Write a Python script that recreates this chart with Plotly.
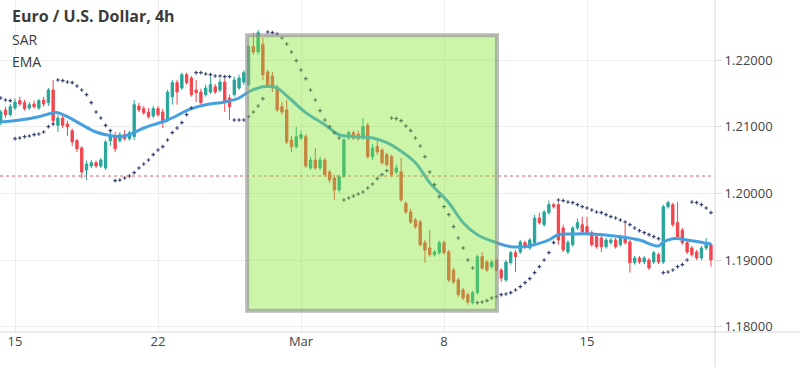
import plotly.graph_objects as go

# ---- data (4h EUR/USD bars, index 0..149) ----
opens = [1.2107,1.2125,1.2118,1.2128,1.2139,1.2136,1.2128,1.2134,1.2128,1.2140,
         1.2136,1.2155,1.2102,1.2113,1.2104,1.2094,1.2079,1.2068,1.2035,1.2041,
         1.2046,1.2041,1.2038,1.2079,1.2086,1.2079,1.2088,1.2082,1.2085,1.2131,
         1.2127,1.2122,1.2116,1.2127,1.2122,1.2110,1.2145,1.2166,1.2158,1.2178,
         1.2173,1.2155,1.2152,1.2148,1.2152,1.2160,1.2155,1.2167,1.2143,1.2148,
         1.2158,1.2167,1.2163,1.2220,1.2212,1.2223,1.2182,1.2176,1.2158,1.2130,
         1.2125,1.2080,1.2070,1.2083,1.2085,1.2038,1.2050,1.2038,1.2050,1.2032,
         1.2023,1.2005,1.2025,1.2083,1.2091,1.2089,1.2083,1.2102,1.2055,1.2070,
         1.2065,1.2058,1.2055,1.2032,1.2032,1.1985,1.1972,1.1960,1.1957,1.1926,
         1.1918,1.1908,1.1911,1.1926,1.1912,1.1885,1.1870,1.1855,1.1848,1.1836,
         1.1851,1.1905,1.1897,1.1890,1.1900,1.1885,1.1870,1.1896,1.1911,1.1912,
         1.1926,1.1918,1.1926,1.1963,1.1953,1.1971,1.1983,1.1983,1.1948,1.1912,
         1.1923,1.1948,1.1953,1.1950,1.1941,1.1935,1.1933,1.1920,1.1926,1.1930,
         1.1923,1.1935,1.1927,1.1896,1.1903,1.1897,1.1900,1.1897,1.1908,1.1897,
         1.1980,1.1983,1.1956,1.1945,1.1926,1.1918,1.1912,1.1903,1.1918,1.1923]
highs = [1.2125,1.2130,1.2134,1.2142,1.2145,1.2140,1.2137,1.2139,1.2142,1.2145,
         1.2158,1.2170,1.2118,1.2116,1.2109,1.2097,1.2082,1.2071,1.2049,1.2050,
         1.2049,1.2053,1.2080,1.2092,1.2092,1.2092,1.2095,1.2094,1.2140,1.2136,
         1.2131,1.2128,1.2131,1.2131,1.2127,1.2155,1.2170,1.2170,1.2181,1.2181,
         1.2176,1.2170,1.2157,1.2163,1.2175,1.2164,1.2172,1.2172,1.2148,1.2175,
         1.2178,1.2185,1.2223,1.2241,1.2245,1.2233,1.2185,1.2182,1.2163,1.2137,
         1.2140,1.2086,1.2100,1.2094,1.2089,1.2055,1.2068,1.2055,1.2053,1.2035,
         1.2028,1.2028,1.2083,1.2094,1.2094,1.2094,1.2113,1.2106,1.2074,1.2080,
         1.2068,1.2061,1.2058,1.2043,1.2053,1.1988,1.1977,1.1963,1.1960,1.1930,
         1.1945,1.1915,1.1929,1.1929,1.1915,1.1888,1.1873,1.1858,1.1851,1.1854,
         1.1908,1.1912,1.1900,1.1900,1.1903,1.1888,1.1900,1.1914,1.1915,1.1930,
         1.1929,1.1933,1.1968,1.1971,1.1975,1.1989,1.1986,1.1986,1.1953,1.1930,
         1.1951,1.1962,1.1965,1.1965,1.1944,1.1938,1.1936,1.1933,1.1933,1.1933,
         1.1938,1.1954,1.1930,1.1906,1.1906,1.1906,1.1903,1.1914,1.1911,1.1983,
         1.1989,1.1986,1.1987,1.1948,1.1929,1.1921,1.1915,1.1921,1.1933,1.1926]
lows = [1.2102,1.2113,1.2115,1.2125,1.2131,1.2124,1.2125,1.2127,1.2125,1.2130,
        1.2131,1.2102,1.2092,1.2098,1.2086,1.2071,1.2062,1.2023,1.2020,1.2038,
        1.2038,1.2038,1.2035,1.2071,1.2062,1.2076,1.2079,1.2079,1.2080,1.2122,
        1.2118,1.2112,1.2113,1.2115,1.2098,1.2107,1.2133,1.2133,1.2155,1.2163,
        1.2145,1.2137,1.2133,1.2145,1.2149,1.2149,1.2152,1.2122,1.2110,1.2145,
        1.2155,1.2163,1.2160,1.2208,1.2208,1.2170,1.2158,1.2152,1.2122,1.2118,
        1.2074,1.2062,1.2067,1.2080,1.2038,1.2035,1.2035,1.2035,1.2025,1.2016,
        1.1990,1.2001,1.2023,1.2080,1.2080,1.2079,1.2080,1.2052,1.2050,1.2058,
        1.2043,1.2040,1.2025,1.2029,1.1987,1.1969,1.1954,1.1947,1.1920,1.1896,
        1.1905,1.1905,1.1908,1.1908,1.1867,1.1864,1.1845,1.1840,1.1833,1.1833,
        1.1848,1.1885,1.1882,1.1887,1.1882,1.1867,1.1867,1.1893,1.1882,1.1909,
        1.1917,1.1915,1.1923,1.1953,1.1950,1.1968,1.1977,1.1923,1.1912,1.1909,
        1.1920,1.1945,1.1939,1.1938,1.1920,1.1917,1.1912,1.1917,1.1923,1.1917,
        1.1920,1.1923,1.1881,1.1893,1.1894,1.1894,1.1885,1.1894,1.1894,1.1894,
        1.1977,1.1950,1.1932,1.1923,1.1909,1.1905,1.1900,1.1900,1.1915,1.1890]
closes = [1.2122,1.2118,1.2130,1.2137,1.2134,1.2127,1.2133,1.2130,1.2139,1.2134,
          1.2155,1.2109,1.2113,1.2102,1.2100,1.2077,1.2067,1.2032,1.2044,1.2046,
          1.2041,1.2050,1.2077,1.2086,1.2067,1.2088,1.2082,1.2091,1.2133,1.2125,
          1.2121,1.2115,1.2127,1.2118,1.2107,1.2152,1.2166,1.2152,1.2178,1.2166,
          1.2148,1.2151,1.2136,1.2158,1.2163,1.2152,1.2167,1.2137,1.2130,1.2170,
          1.2173,1.2181,1.2220,1.2212,1.2241,1.2178,1.2163,1.2158,1.2125,1.2122,
          1.2077,1.2070,1.2085,1.2088,1.2041,1.2050,1.2038,1.2050,1.2028,1.2020,
          1.2005,1.2025,1.2080,1.2091,1.2083,1.2082,1.2100,1.2055,1.2068,1.2062,
          1.2046,1.2043,1.2028,1.2038,1.1990,1.1972,1.1957,1.1950,1.1923,1.1915,
          1.1908,1.1912,1.1926,1.1911,1.1870,1.1867,1.1848,1.1843,1.1837,1.1851,
          1.1905,1.1888,1.1885,1.1897,1.1885,1.1873,1.1897,1.1911,1.1905,1.1927,
          1.1920,1.1930,1.1963,1.1956,1.1972,1.1983,1.1980,1.1930,1.1915,1.1926,
          1.1948,1.1956,1.1942,1.1941,1.1923,1.1920,1.1920,1.1930,1.1930,1.1920,
          1.1935,1.1926,1.1896,1.1903,1.1897,1.1903,1.1888,1.1911,1.1897,1.1980,
          1.1986,1.1953,1.1935,1.1926,1.1912,1.1908,1.1903,1.1918,1.1926,1.1900]
sar = [1.2143,1.2140,1.2139,1.2082,1.2083,1.2085,1.2086,1.2088,1.2089,1.2092,
       1.2100,1.2104,1.2170,1.2169,1.2167,1.2166,1.2161,1.2155,1.2148,1.2136,
       1.2122,1.2113,1.2102,1.2094,1.2019,1.2020,1.2023,1.2026,1.2031,1.2038,
       1.2044,1.2050,1.2058,1.2065,1.2070,1.2080,1.2091,1.2098,1.2106,1.2118,
       1.2128,1.2181,1.2181,1.2179,1.2178,1.2176,1.2176,1.2175,1.2175,1.2110,
       1.2110,1.2110,1.2115,1.2122,1.2131,1.2142,1.2242,1.2241,1.2239,1.2233,
       1.2224,1.2212,1.2199,1.2185,1.2172,1.2155,1.2140,1.2124,1.2110,1.2100,
       1.2091,1.2083,1.1990,1.1993,1.1996,1.1999,1.2002,1.2008,1.2014,1.2022,
       1.2028,1.2034,1.2113,1.2112,1.2109,1.2101,1.2094,1.2083,1.2071,1.2055,
       1.2032,1.2013,1.1995,1.1980,1.1968,1.1950,1.1933,1.1918,1.1900,1.1888,
       1.1836,1.1837,1.1839,1.1843,1.1845,1.1848,1.1849,1.1851,1.1855,1.1860,
       1.1866,1.1872,1.1881,1.1890,1.1900,1.1911,1.1926,1.1990,1.1989,1.1987,
       1.1986,1.1983,1.1980,1.1978,1.1975,1.1972,1.1971,1.1968,1.1965,1.1963,
       1.1960,1.1957,1.1953,1.1948,1.1944,1.1941,1.1938,1.1935,1.1932,1.1881,
       1.1882,1.1885,1.1890,1.1893,1.1900,1.1987,1.1986,1.1983,1.1978,1.1971]
ema_idx = [0,4,8,11,12,14,17,20,22,25,27,30,35,40,43,47,50,52,55,57,58,61,64,68,71,
           74,78,81,83,87,90,94,97,100,104,107,110,112,115,117,120,124,130,134,138,
           139,141,145,149]
ema_val = [1.2107,1.2110,1.2115,1.2121,1.2121,1.2115,1.2103,1.2092,1.2088,1.2085,
           1.2088,1.2098,1.2110,1.2127,1.2133,1.2137,1.2143,1.2152,1.2160,1.2160,
           1.2158,1.2140,1.2121,1.2103,1.2088,1.2085,1.2083,1.2076,1.2068,1.2046,
           1.2016,1.1986,1.1956,1.1938,1.1926,1.1920,1.1920,1.1923,1.1930,1.1938,
           1.1939,1.1939,1.1935,1.1930,1.1921,1.1927,1.1932,1.1929,1.1924]
last_price_level = 1.2026
box_x = [51.7, 104.1]
box_y = [1.1824, 1.2237]
tick_pos = [3, 33, 63, 93, 123]
tick_text = ["15", "22", "Mar", "8", "15"]
price_ticks = [1.18, 1.19, 1.20, 1.21, 1.22]

idx = list(range(len(opens)))

fig = go.Figure()
fig.add_trace(go.Candlestick(
    x=idx, open=opens, high=highs, low=lows, close=closes,
    increasing=dict(line=dict(color="#26a69a", width=1), fillcolor="#26a69a"),
    decreasing=dict(line=dict(color="#f0464f", width=1), fillcolor="#f0464f"),
    whiskerwidth=0, showlegend=False, hoverinfo="skip"))
fig.add_trace(go.Scatter(
    x=ema_idx, y=ema_val, mode="lines", line=dict(color="#45a0e0", width=3, shape="spline", smoothing=1.0),
    showlegend=False, hoverinfo="skip"))
fig.add_trace(go.Scatter(
    x=idx, y=sar, mode="markers",
    marker=dict(symbol="cross", size=3, color="#3a4775", line=dict(width=0)),
    showlegend=False, hoverinfo="skip"))

# dotted last-price line
fig.add_shape(type="line", xref="paper", x0=0, x1=1, yref="y", y0=last_price_level, y1=last_price_level,
              line=dict(color="#e06060", width=1, dash="dot"), layer="above")
# highlighted box
fig.add_shape(type="rect", xref="x", yref="y", x0=box_x[0], x1=box_x[1], y0=box_y[0], y1=box_y[1],
              fillcolor="rgba(130,230,42,0.4)", line=dict(color="rgba(140,140,140,0.6)", width=4),
              layer="above")
# axis borders
fig.add_shape(type="line", xref="paper", yref="paper", x0=1, x1=1, y0=-0.2, y1=1,
              line=dict(color="#d6d6d6", width=1), layer="above")
fig.add_shape(type="line", xref="paper", yref="paper", x0=0, x1=1.2, y0=0, y1=0,
              line=dict(color="#d6d6d6", width=1), layer="above")

fig.add_annotation(xref="paper", yref="paper", x=0.014, y=0.99, xanchor="left", yanchor="top",
                   text="<b>Euro / U.S. Dollar, 4h</b>", showarrow=False,
                   font=dict(family="Open Sans", size=16, color="#3b3b3b"))
fig.add_annotation(xref="paper", yref="paper", x=0.014, y=0.915, xanchor="left", yanchor="top",
                   text="SAR", showarrow=False, font=dict(family="Open Sans", size=14, color="#3b3b3b"))
fig.add_annotation(xref="paper", yref="paper", x=0.014, y=0.85, xanchor="left", yanchor="top",
                   text="EMA", showarrow=False, font=dict(family="Open Sans", size=14, color="#3b3b3b"))

fig.update_layout(
    width=800, height=367, margin=dict(l=0, r=85, t=0, b=35),
    paper_bgcolor="white", plot_bgcolor="white",
    xaxis=dict(range=[-0.15, 149.85], tickvals=tick_pos, ticktext=tick_text,
               showgrid=True, gridcolor="#ededed", zeroline=False, showline=False,
               rangeslider=dict(visible=False), ticks="",
               tickfont=dict(family="Open Sans", size=13, color="#444")),
    yaxis=dict(range=[1.1792, 1.2290], side="right", tickvals=price_ticks,
               tickformat=".5f", showgrid=True, gridcolor="#ededed", zeroline=False,
               ticks="outside", ticklen=6, tickcolor="#d6d6d6",
               tickfont=dict(family="Open Sans", size=13, color="#444")),
)
fig.write_html("out.html", config={"displayModeBar": False},
               post_script="document.body.style.margin='0';document.body.style.overflow='hidden';")
